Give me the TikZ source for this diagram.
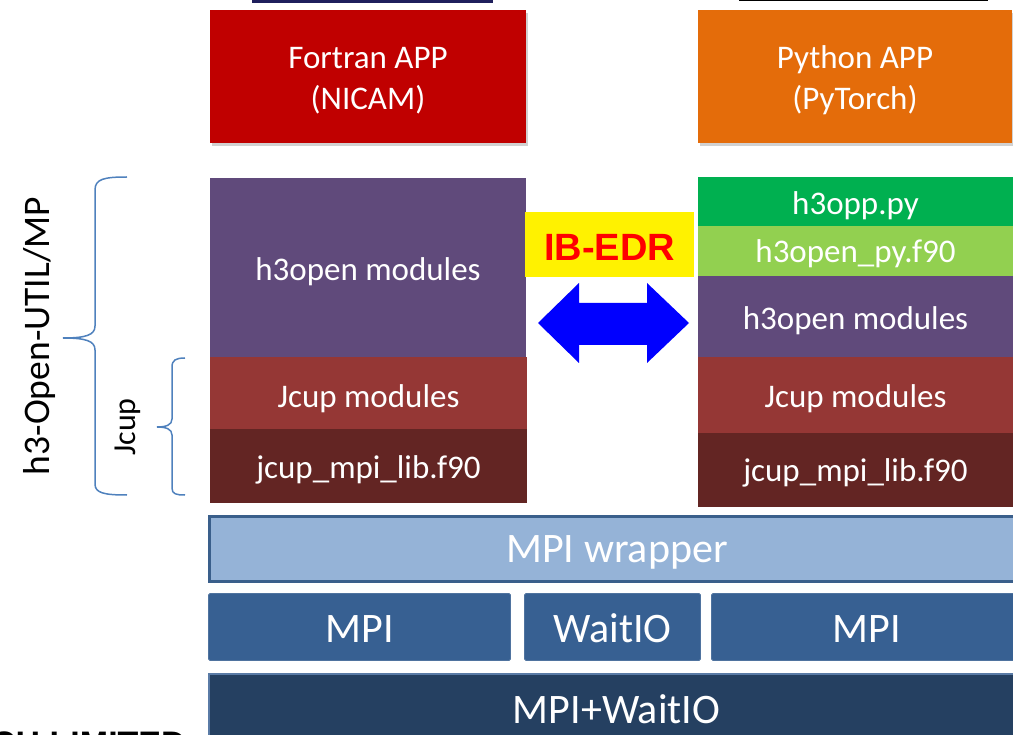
\documentclass[tikz,border=0pt]{standalone}
\usepackage{fontspec}
\setmainfont{Carlito}
\newfontfamily\arialfont{Liberation Sans}
\usetikzlibrary{shadows}
\definecolor{fortranred}{HTML}{C00000}
\definecolor{pyorange}{HTML}{E46C0A}
\definecolor{modpurple}{HTML}{604A7B}
\definecolor{jcupred}{HTML}{953735}
\definecolor{libred}{HTML}{632523}
\definecolor{h3green}{HTML}{00B050}
\definecolor{h3lgreen}{HTML}{92D050}
\definecolor{wrapfill}{HTML}{95B3D7}
\definecolor{wrapline}{HTML}{3A5F8B}
\definecolor{mpifill}{HTML}{376092}
\definecolor{mpiline}{HTML}{4F739F}
\definecolor{basefill}{HTML}{254061}
\definecolor{baseline}{HTML}{5A7BA6}
\definecolor{bracecol}{HTML}{4F81BD}
\definecolor{topnavy}{HTML}{1F1F5C}
% lower a text without changing the size TikZ centres on
\newcommand\dn[2]{\raisebox{-#1}[\height][\depth]{#2}}
\newcommand\twolines[2]{\begin{tabular}{@{}c@{}}#1\\#2\end{tabular}}
\begin{document}
\begin{tikzpicture}[x=1pt,y=-1pt,
  box/.style={rectangle, inner sep=0pt, outer sep=0pt, anchor=north west,
    text=white, align=center, font=\fontsize{33}{41}\selectfont},
  bigbox/.style={box, font=\fontsize{42}{50}\selectfont},
  appshadow/.style={drop shadow={shadow xshift=2pt, shadow yshift=-3pt, fill=black, opacity=0.18}},
  brace/.style={draw=bracecol, line width=1.5pt},
  sidelabel/.style={inner sep=0pt, rotate=90, text=black}]
\useasboundingbox (0,0) rectangle (1013,735);
\clip (0,0) rectangle (1013,735);

% partial bars at the very top
\fill[topnavy] (252,-5) rectangle (493,3);
\fill[black] (739,-5) rectangle (988,1.5);

% application boxes
\node[box, appshadow, fill=fortranred, minimum width=316pt, minimum height=133pt] (fortran) at (210,10) {\dn{4pt}{\twolines{Fortran APP}{(NICAM)}}};
\node[box, appshadow, fill=pyorange, minimum width=314pt, minimum height=133pt] (python) at (698,10) {\dn{4pt}{\twolines{Python APP}{(PyTorch)}}};

% left stack
\node[box, fill=modpurple, minimum width=316pt, minimum height=179pt] (lh3open) at (210,178) {\dn{4pt}{h3open modules}};
\node[box, fill=jcupred, minimum width=317pt, minimum height=72pt] (ljcup) at (210,357) {\dn{6pt}{Jcup modules}};
\node[box, fill=libred, minimum width=317pt, minimum height=74pt] (llib) at (210,429) {\dn{4pt}{jcup\_mpi\_lib.f90}};

% right stack
\node[box, fill=h3green, minimum width=315pt, minimum height=49pt] (rh3opp) at (698,177) {\dn{4pt}{h3opp.py}};
\node[box, fill=h3lgreen, minimum width=315pt, minimum height=50pt] (rh3py) at (698,226) {\dn{3pt}{h3open\_py.f90}};
\node[box, fill=modpurple, minimum width=315pt, minimum height=81pt] (rh3open) at (698,276) {\dn{4pt}{h3open modules}};
\node[box, fill=jcupred, minimum width=315pt, minimum height=76pt] (rjcup) at (698,357) {\dn{4pt}{Jcup modules}};
\node[box, fill=libred, minimum width=315pt, minimum height=74pt] (rlib) at (698,433) {\dn{3pt}{jcup\_mpi\_lib.f90}};

% IB-EDR label and double arrow
\node[box, fill=yellow, text=red, minimum width=169pt, minimum height=65pt,
  font=\arialfont\bfseries\fontsize{38}{44}\selectfont] (ibedr) at (525,212) {\dn{3pt}{IB-EDR}};
\fill[blue] (538,323) -- (579,283) -- (579,303) -- (647,303) -- (647,283) -- (689,323)
  -- (647,363) -- (647,345) -- (579,345) -- (579,363) -- cycle;

% MPI layers
\node[bigbox, fill=wrapfill, draw=wrapline, line width=3pt, minimum width=815pt, minimum height=65pt] (wrapper) at (209.5,516.5) {\dn{3pt}{MPI wrapper}};
\node[bigbox, fill=mpifill, draw=mpiline, line width=0.8pt, rounded corners=1.5pt, minimum width=302pt, minimum height=67pt] (mpil) at (208.5,593.5) {\dn{2pt}{MPI}};
\node[bigbox, fill=mpifill, draw=mpiline, line width=0.8pt, rounded corners=1.5pt, minimum width=176pt, minimum height=67pt] (waitio) at (524.5,593.5) {\dn{1pt}{WaitIO}};
\node[bigbox, fill=mpifill, draw=mpiline, line width=0.8pt, rounded corners=1.5pt, minimum width=310pt, minimum height=67pt] (mpir) at (711.5,593.5) {\dn{2pt}{MPI}};
\node[bigbox, fill=basefill, draw=baseline, line width=2pt, minimum width=815pt, minimum height=70pt] (mpiwaitio) at (209,674) {MPI+WaitIO};

% braces
\draw[brace] (127,177) .. controls (104,177) and (95,179) .. (95,190) -- (95,326)
  .. controls (95,335) and (86,338) .. (63,338)
  .. controls (86,338) and (95,341) .. (95,350) -- (95,484)
  .. controls (95,493) and (104,495) .. (127,495);
\draw[brace] (185,358) .. controls (176,358) and (172,360) .. (172,367) -- (172,419)
  .. controls (172,425) and (166,427) .. (157,427)
  .. controls (166,427) and (172,429) .. (172,435) -- (172,488)
  .. controls (172,494) and (176,495) .. (185,495);

% side labels
\node[sidelabel, font=\fontsize{37.5}{44}\selectfont] (lblutil) at (40,336) {h3-Open-UTIL/MP};
\node[sidelabel, font=\fontsize{32}{40}\selectfont] (lbljcup) at (128,427) {Jcup};

% cut-off footer text (only its top shows, as in the reference)
\node[inner sep=0pt, anchor=base west, font=\arialfont\bfseries\fontsize{34}{40}\selectfont] (footer) at (-9,755) {CH LIMITED};
\end{tikzpicture}
\end{document}
